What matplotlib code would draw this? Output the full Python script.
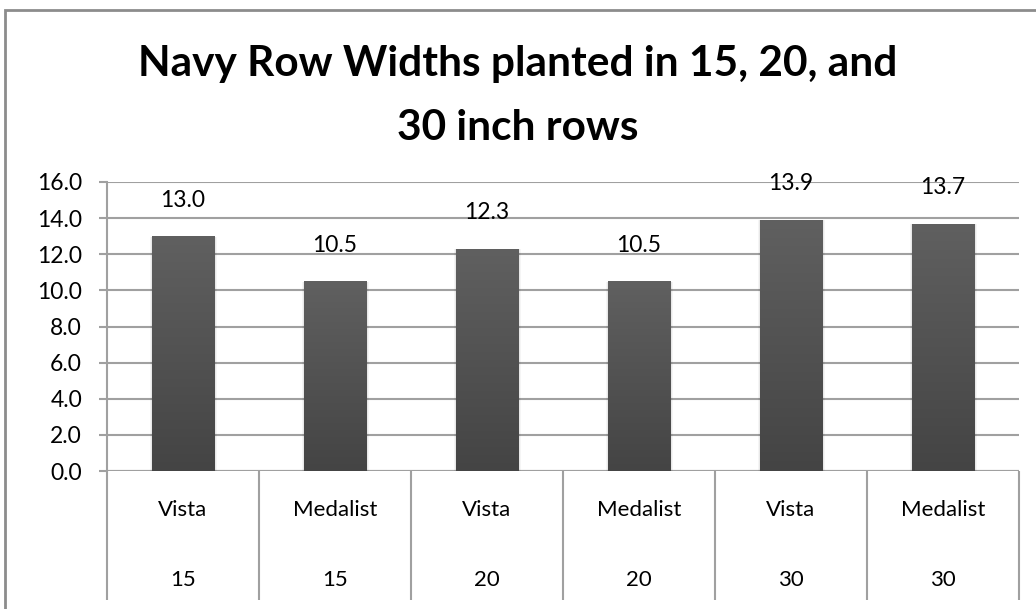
import numpy as np
import matplotlib
matplotlib.use('Agg')
import matplotlib.pyplot as plt
from matplotlib.patches import Rectangle

plt.rcParams['font.family'] = ['Lato', 'DejaVu Sans']

varieties = ['Vista', 'Medalist', 'Vista', 'Medalist', 'Vista', 'Medalist']
row_widths = ['15', '15', '20', '20', '30', '30']
values = [13.0, 10.5, 12.3, 10.5, 13.9, 13.7]
yticks = np.arange(0, 16.1, 2)

grid_c = '#a0a0a0'

fig = plt.figure(figsize=(10.36, 6.09), dpi=100)
ax = fig.add_axes([107/1036, 1 - 471/609, 912/1036, 289/609])

x = np.arange(len(values))
bars = ax.bar(x, values, width=0.41, color='#555555', zorder=3)

# vertical gradient on each bar, plus a faint shadow
grad = np.linspace(0, 1, 256).reshape(-1, 1)
cmap = matplotlib.colors.LinearSegmentedColormap.from_list('g', ['#444444', '#606060'])
for b in bars:
    for k, a in [(0.03, 0.04), (0.015, 0.05)]:
        ax.bar(b.get_x() + b.get_width() / 2 + 0.005, b.get_height() + 0.08, width=b.get_width() + k,
               bottom=-0.1, color='#000000', alpha=a, zorder=2)
    im = ax.imshow(grad, cmap=cmap,
                   extent=[b.get_x(), b.get_x() + b.get_width(), 0, b.get_height()],
                   origin='lower', aspect='auto', zorder=4)
    im.set_clip_path(b)

for xi, v in zip(x, values):
    ax.text(xi, v + 2.0, f'{v:.1f}', ha='center', va='center', fontsize=16.5, zorder=5)

ax.set_xlim(-0.5, len(values) - 0.5)
ax.set_ylim(0, 16)
ax.set_yticks(yticks)
ax.set_yticklabels([f'{t:.1f}' for t in yticks], fontsize=16.5)
ax.yaxis.grid(True, color=grid_c, linewidth=1.5, zorder=0)
ax.set_axisbelow(True)
ax.tick_params(axis='y', direction='out', length=6, width=1.5, color=grid_c, pad=12)
ax.set_xticks([])
for s in ['top', 'right', 'bottom']:
    ax.spines[s].set_visible(False)
ax.spines['left'].set_color(grid_c)
ax.spines['left'].set_linewidth(1.5)

# two-level category axis
xt = ax.get_xaxis_transform()
ax.hlines(0, -0.5, len(values) - 0.5, color=grid_c, linewidth=1.5, zorder=1)
ax.vlines(np.arange(len(values) + 1) - 0.5, -129/289, 0, transform=xt, color=grid_c,
          linewidth=1.5, clip_on=False)
for xi, var, rw in zip(x, varieties, row_widths):
    ax.text(xi, -39/289, var, transform=xt, ha='center', va='center', fontsize=16)
    ax.text(xi, -109/289, rw, transform=xt, ha='center', va='center', fontsize=16)

fig.text(0.5, 1 - 76/609, 'Navy Row Widths planted in 15, 20, and', ha='center', va='baseline',
         fontsize=30.5, fontweight='bold')
fig.text(0.5, 1 - 140/609, '30 inch rows', ha='center', va='baseline',
         fontsize=30.5, fontweight='bold')

# chart border (right/bottom cropped off)
fig.patches.append(Rectangle((5/1036, -0.1), 1.2, 1 - 10/609 + 0.1, transform=fig.transFigure,
                             fill=False, edgecolor='#8c8c8c', linewidth=2))

fig.savefig('out.png', dpi=100)
